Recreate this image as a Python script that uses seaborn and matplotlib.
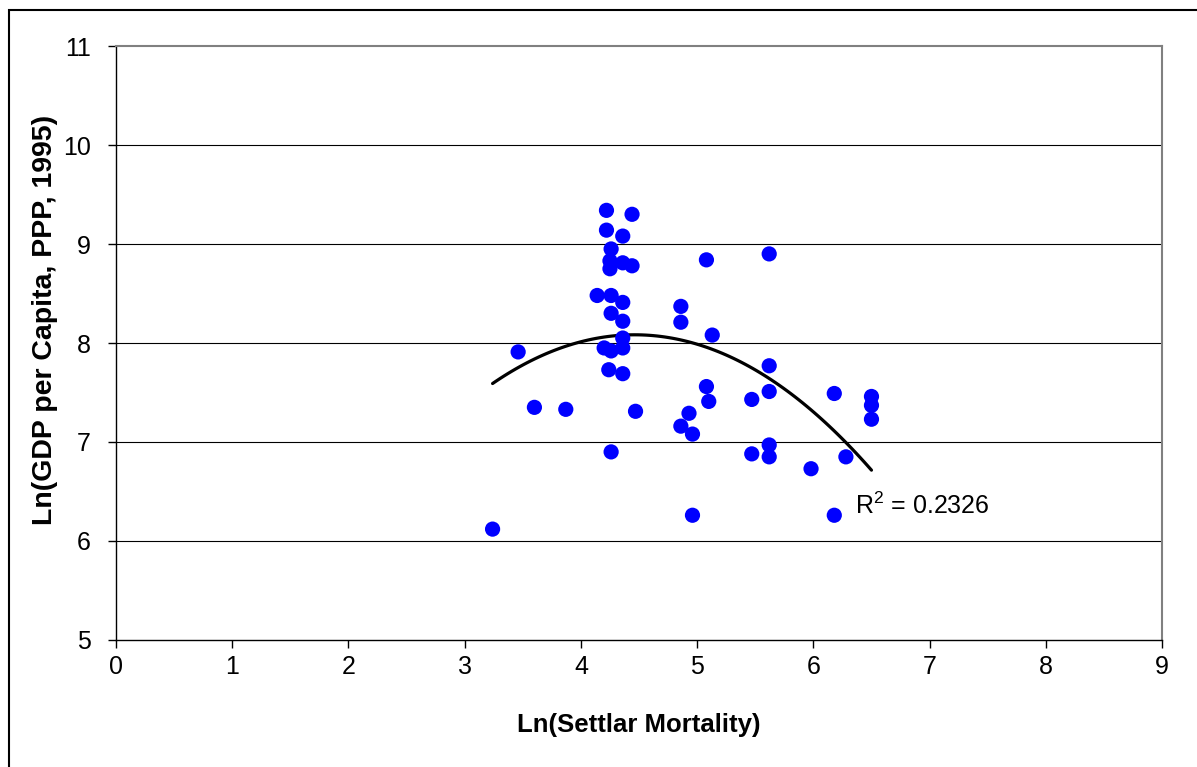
import pandas as pd
import numpy as np
import matplotlib
matplotlib.use("Agg")
import matplotlib.pyplot as plt
import seaborn as sns
from matplotlib.patches import Rectangle

# Data
settler_mortality = [3.24, 3.46, 3.60, 3.87, 4.14, 4.22, 4.22, 4.26, 4.25, 4.25,
                     4.26, 4.26, 4.20, 4.26, 4.24, 4.26, 4.36, 4.36, 4.36, 4.36,
                     4.36, 4.36, 4.36, 4.44, 4.44, 4.47, 4.86, 4.86, 4.86, 4.93,
                     4.96, 4.96, 5.08, 5.08, 5.10, 5.13, 5.47, 5.47, 5.62, 5.62,
                     5.62, 5.62, 5.62, 5.98, 6.18, 6.18, 6.28, 6.50, 6.50, 6.50]
gdp_per_capita = [6.12, 7.91, 7.35, 7.33, 8.48, 9.34, 9.14, 8.95, 8.83, 8.75,
                  8.48, 8.30, 7.95, 7.92, 7.73, 6.90, 9.08, 8.81, 8.41, 8.22,
                  8.05, 7.95, 7.69, 9.30, 8.78, 7.31, 8.37, 8.21, 7.16, 7.29,
                  7.08, 6.26, 8.84, 7.56, 7.41, 8.08, 7.43, 6.88, 8.90, 7.77,
                  7.51, 6.97, 6.85, 6.73, 7.49, 6.26, 6.85, 7.46, 7.37, 7.23]
r2_label = "R$^2$ = 0.2326"

df = pd.DataFrame({"mortality": settler_mortality, "gdp": gdp_per_capita})

sns.set_style("white")
plt.rcParams['font.family'] = ['Liberation Sans', 'DejaVu Sans']
plt.rcParams['text.color'] = 'black'
plt.rcParams['axes.labelcolor'] = 'black'
plt.rcParams['xtick.color'] = 'black'
plt.rcParams['ytick.color'] = 'black'
plt.rcParams['mathtext.fontset'] = 'custom'
plt.rcParams['mathtext.rm'] = 'Liberation Sans'

fig = plt.figure(figsize=(11.97, 7.67), dpi=100)
ax = fig.add_axes([0.0969, 0.1656, 0.8739, 0.7744])

# horizontal gridlines
for yv in range(6, 11):
    ax.axhline(yv, color='black', lw=0.8, zorder=0)

sns.regplot(data=df, x="mortality", y="gdp", order=2, ci=None, scatter=False,
            line_kws={"color": "black", "lw": 2.3}, ax=ax)
sns.scatterplot(data=df, x="mortality", y="gdp", color="#0000ff", s=120,
                edgecolor="none", ax=ax, zorder=3)

ax.text(6.36, 6.36, r2_label, fontsize=18, va='center', ha='left')

ax.set_xlim(0, 9)
ax.set_ylim(5, 11)
ax.set_xticks(range(0, 10))
ax.set_yticks(range(5, 12))
ax.tick_params(axis='both', labelsize=18, direction='out', width=1,
               color='black', labelcolor='black', bottom=True, left=True)
ax.tick_params(axis='x', length=6, pad=5)
ax.tick_params(axis='y', length=6, pad=12)
ax.set_xlabel("Ln(Settlar Mortality)", fontsize=18.5, fontweight='bold', labelpad=24)
ax.set_ylabel("Ln(GDP per Capita, PPP, 1995)", fontsize=20.5, fontweight='bold')
ax.yaxis.set_label_coords(-0.0555, 0.539)

for side in ['top', 'right']:
    ax.spines[side].set_color('#808080')
    ax.spines[side].set_linewidth(1.5)
for side in ['left', 'bottom']:
    ax.spines[side].set_color('black')
    ax.spines[side].set_linewidth(1)

# outer chart border
fig.patches.append(Rectangle((0.0079, -0.05), 1.1, 1.0376, transform=fig.transFigure,
                             fill=False, edgecolor='black', lw=1.5))

fig.savefig("out.png", dpi=100)
